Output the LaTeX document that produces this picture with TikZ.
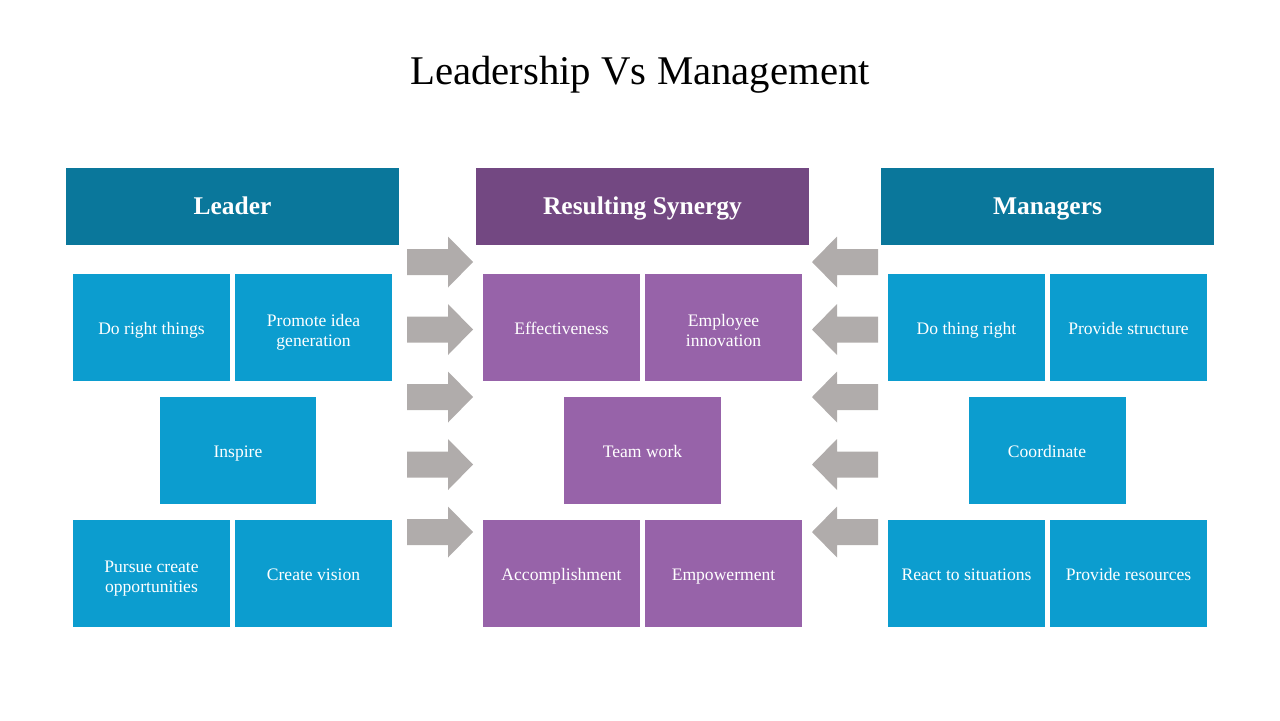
\documentclass[tikz,border=0pt]{standalone}
\usepackage{fontspec}
\setmainfont{Liberation Serif}
\usetikzlibrary{positioning}
\definecolor{headc}{HTML}{0A779B}
\definecolor{sync}{HTML}{734882}
\definecolor{cellc}{HTML}{0C9DCF}
\definecolor{pcellc}{HTML}{9763A9}
\definecolor{arrc}{HTML}{B0ACAB}
\newcommand{\cellstrut}{\rule{0pt}{13.5pt}}
\tikzset{
  head/.style={fill=headc,text=white,minimum width=6.66cm,minimum height=1.56cm,inner sep=0pt,text height=9.6pt,text depth=0pt,font=\fontsize{14.5}{17}\selectfont\bfseries},
  cell/.style={fill=cellc,text=white,minimum width=3.14cm,minimum height=2.14cm,inner sep=0pt,align=center,font=\fontsize{10}{11.5}\selectfont,
    execute at begin node=\rule{0pt}{10.9pt},execute at end node=\strut},
  pcell/.style={cell,fill=pcellc}
}

\begin{document}
\begin{tikzpicture}[x=.02cm,y=-.02cm]
\useasboundingbox (0,0) rectangle (1280,720);
\node[anchor=base] (title) at (640,84) {\fontsize{23.2}{28}\selectfont Leadership Vs Management};
% column heads
\node[head] (lead) at (232.5,206.5) {Leader};
\node[head,fill=sync] (syn) at (642.5,206.5) {Resulting Synergy};
\node[head] (man) at (1047.5,206.5) {Managers};
% leader side
\node[cell] (l1) at (151.5,327.5) {Do right things};
\node[cell] (l2) at (313.5,327.5) {\cellstrut Promote idea\\generation};
\node[cell] (l3) at (238,450.5) {Inspire};
\node[cell] (l4) at (151.5,573.5) {\cellstrut Pursue create\\opportunities};
\node[cell] (l5) at (313.5,573.5) {Create vision};
% synergy
\node[pcell] (s1) at (561.5,327.5) {Effectiveness};
\node[pcell] (s2) at (723.5,327.5) {\cellstrut Employee\\innovation};
\node[pcell] (s3) at (642.5,450.5) {Team work};
\node[pcell] (s4) at (561.5,573.5) {Accomplishment};
\node[pcell] (s5) at (723.5,573.5) {Empowerment};
% managers side
\node[cell] (m1) at (966.5,327.5) {Do thing right};
\node[cell] (m2) at (1128.5,327.5) {Provide structure};
\node[cell] (m3) at (1047,450.5) {Coordinate};
\node[cell] (m4) at (966.5,573.5) {React to situations};
\node[cell] (m5) at (1128.5,573.5) {Provide resources};
% block arrows
\foreach \y in {262,329.5,397,464.5,532}{
  \fill[arrc] (407,\y-13) -- (448,\y-13) -- (448,\y-25.5) -- (473,\y) -- (448,\y+25.5) -- (448,\y+13) -- (407,\y+13) -- cycle;
  \fill[arrc] (878,\y-13) -- (837,\y-13) -- (837,\y-25.5) -- (812,\y) -- (837,\y+25.5) -- (837,\y+13) -- (878,\y+13) -- cycle;
}
\end{tikzpicture}
\end{document}
